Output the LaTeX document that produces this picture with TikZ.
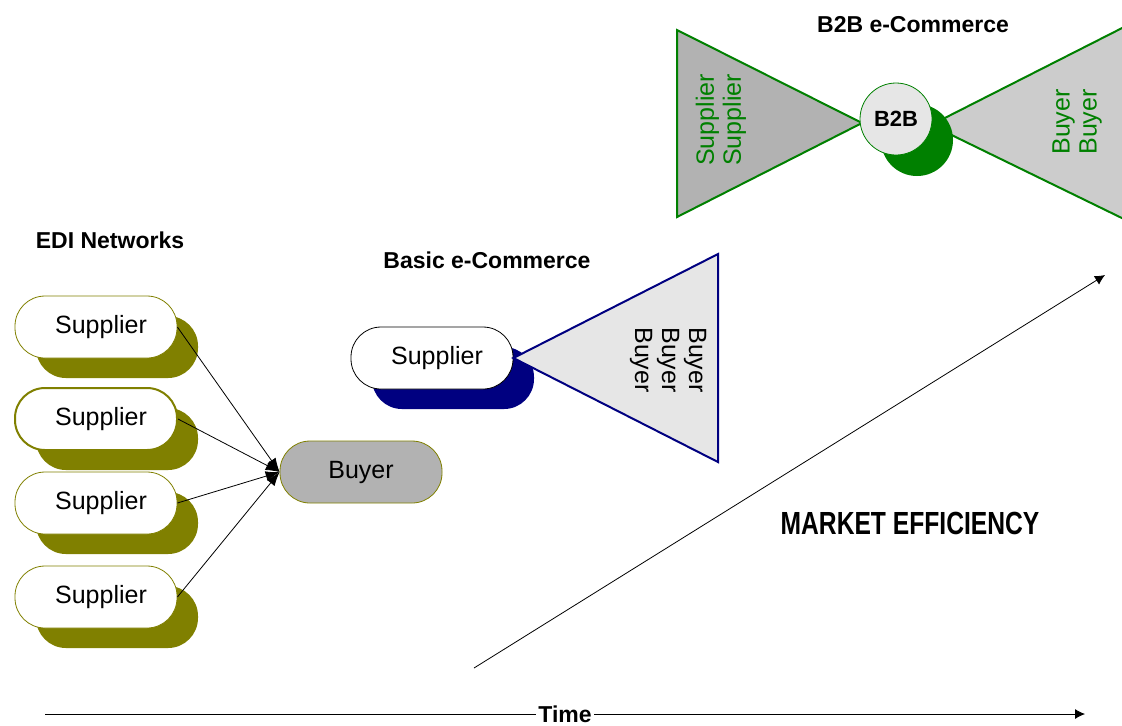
\documentclass[tikz,border=0pt]{standalone}
\usepackage{fontspec}
\setmainfont{Liberation Sans}
\usepackage{tikz}
\usetikzlibrary{positioning}
\usetikzlibrary{shapes,shadows,arrows.meta}
\definecolor{olivedk}{RGB}{128,128,0}
\definecolor{navydk}{RGB}{0,0,128}
\definecolor{greendk}{RGB}{0,128,0}
\definecolor{graymid}{RGB}{178,178,178}
\definecolor{graylt}{RGB}{204,204,204}
\definecolor{grayxlt}{RGB}{230,230,230}
\tikzstyle{novertex} = [draw=none, fill=none, text centered, font=\bfseries\fontsize{11.5}{13}\selectfont]
\tikzstyle{party} = [rectangle, rounded corners=15pt, draw, fill=white, minimum width=81pt, minimum height=31pt, text centered, font=\fontsize{12.5}{15}\selectfont]
\tikzstyle{oliveshadow} = [drop shadow={shadow xshift=10.5pt, shadow yshift=-10pt, opacity=1, fill=olivedk}]
\tikzstyle{navyshadow} = [drop shadow={shadow xshift=10.5pt, shadow yshift=-10pt, opacity=1, fill=navydk}]
\tikzstyle{greenshadow} = [drop shadow={shadow xshift=10.5pt, shadow yshift=-10.5pt, opacity=1, fill=greendk}]
\tikzstyle{hub} = [circle, draw=greendk, fill=grayxlt, minimum size=36pt, inner sep=0pt, font=\bfseries\fontsize{11}{13}\selectfont]
\tikzstyle{wedge} = [line width=1pt, line join=miter]
\tikzstyle{stack} = [draw=none, fill=none, align=center, font=\fontsize{12.5}{13.5}\selectfont]
\tikzstyle{feed} = [draw, thin, -{Latex[length=7pt,width=5pt]}]
\tikzstyle{axis} = [draw, thin, -{Latex[length=5pt,width=5pt]}]

\begin{document}
\begin{tikzpicture}[x=0.5pt, y=-0.5pt]
	\useasboundingbox (0,0) rectangle (1122,725);
	\clip (0,0) rectangle (1122,725);

	% EDI networks
	\node [novertex] (T1) at (110,240) {EDI Networks};
	\node [party, draw=olivedk, oliveshadow] (S1) at (96,327) {\hspace{5pt}Supplier};
	\node [party, draw=olivedk, line width=1pt, oliveshadow, below of=S1, node distance=46pt] (S2) {\hspace{5pt}Supplier};
	\node [party, draw=olivedk, oliveshadow, below of=S2, node distance=42pt] (S3) {\hspace{5pt}Supplier};
	\node [party, draw=olivedk, oliveshadow, below of=S3, node distance=47pt] (S4) {\hspace{5pt}Supplier};
	\node [party, draw=olivedk, fill=graymid] (B1) at (361,472) {Buyer};

	\path [feed] (S1.east) -- (B1.west);
	\path [feed] (S2.east) -- (B1.west);
	\path [feed] (S3.east) -- (B1.west);
	\path [feed] (S4.east) -- (B1.west);

	% basic e-commerce
	\node [novertex] (T2) at (487,260) {Basic e-Commerce};
	\coordinate (BT) at (718,254);
	\coordinate (BB) at (718,462);
	\node [party, draw=black, navyshadow] (S5) at (432,358) {\hspace{5pt}Supplier};
	\fill [grayxlt] (S5.east) -- (BT) -- (BB) -- cycle;
	\draw [wedge, draw=navydk] (S5.east) -- (BT) -- (BB) -- cycle;
	\node [stack, rotate=-90] (N1) at (668,360) {Buyer\\Buyer\\Buyer};

	% b2b e-commerce
	\node [novertex] (T3) at (913,25) {B2B e-Commerce};
	\coordinate (LT) at (677,30);
	\coordinate (LB) at (677,217);
	\coordinate (LA) at (862,123);
	\coordinate (RT) at (1130,24);
	\coordinate (RB) at (1130,222);
	\coordinate (RA) at (931,125);
	\draw [wedge, draw=greendk, fill=graymid] (LA) -- (LT) -- (LB) -- cycle;
	\draw [wedge, draw=greendk, fill=graylt] (RA) -- (RT) -- (RB) -- cycle;
	\node [hub, greenshadow] (H1) at (896,119) {B2B};
	\node [stack, text=greendk, rotate=90] (N2) at (721,120) {Supplier\\Supplier};
	\node [stack, text=greendk, rotate=90] (N3) at (1077,122) {Buyer\\Buyer};

	% market efficiency
	\coordinate (M0) at (474,668);
	\coordinate (M1) at (1105,275);
	\path [axis] (M0) -- (M1);
	\node [novertex, font=\bfseries\fontsize{16}{18}\selectfont] (T4) at (910,523) {\scalebox{0.77}[1]{MARKET EFFICIENCY}};

	% time axis
	\coordinate (X0) at (45,714);
	\coordinate (X1) at (1085,714);
	\path [axis] (X0) -- (X1);
	\node [novertex, fill=white, inner xsep=1pt, inner ysep=0pt] (T5) at (565,714) {Time};
\end{tikzpicture}
\end{document}
